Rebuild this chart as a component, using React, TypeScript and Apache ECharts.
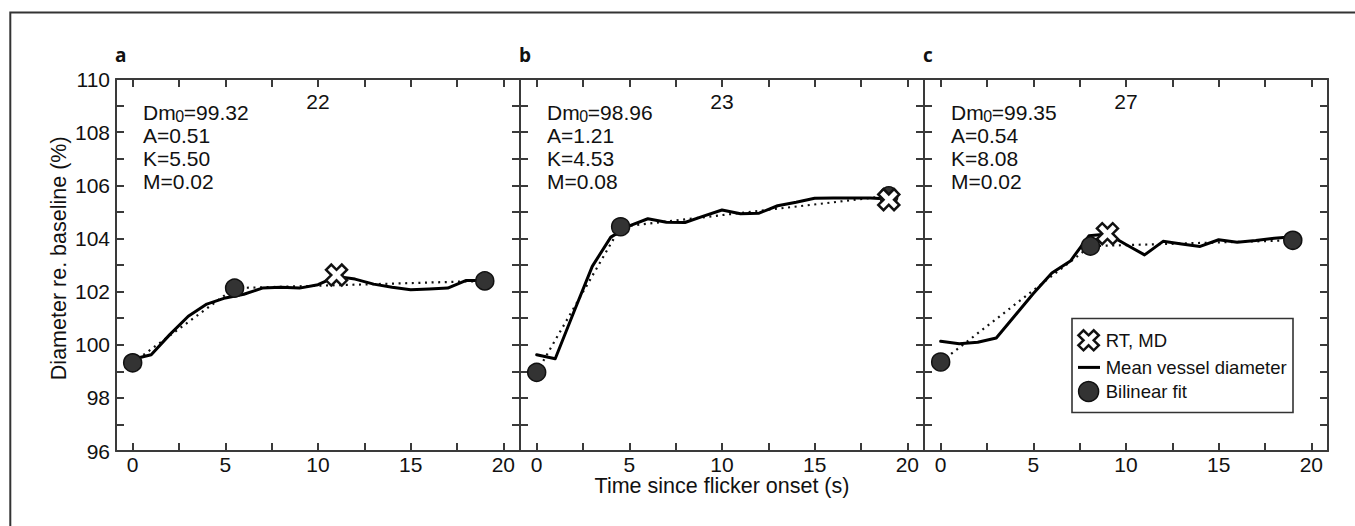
import React, { useEffect, useRef } from "react";
import * as echarts from "echarts";

// ---------- data ----------
const time = [0, 1, 2, 3, 4, 5, 6, 7, 8, 9, 10, 11, 12, 13, 14, 15, 16, 17, 18, 19];
const diameterA = [99.45, 99.62, 100.38, 101.07, 101.53, 101.76, 101.9, 102.13, 102.16, 102.13, 102.26, 102.57, 102.47, 102.28, 102.16, 102.07, 102.1, 102.13, 102.42, 102.42];
const diameterB = [99.62, 99.47, 101.22, 102.95, 104.05, 104.47, 104.74, 104.61, 104.6, 104.84, 105.07, 104.93, 104.95, 105.23, 105.36, 105.51, 105.52, 105.52, 105.52, 105.48];
const diameterC = [100.13, 100.04, 100.09, 100.25, 101.09, 101.93, 102.7, 103.15, 104.1, 104.17, 103.77, 103.38, 103.89, 103.79, 103.7, 103.95, 103.86, 103.92, 104.01, 104.06];
const fitA = [[0, 99.32], [5.5, 102.13], [19, 102.4]];
const fitB = [[0, 98.96], [4.53, 104.44], [19, 105.6]];
const fitC = [[0, 99.35], [8.08, 103.71], [19, 103.93]];
const rtmdA = [11, 102.62];
const rtmdB = [19, 105.46];
const rtmdC = [9, 104.18];
const panelLetters = ["a", "b", "c"];
const panelTitles = ["22", "23", "27"];
const dm0Values = ["99.32", "98.96", "99.35"];
const aValues = ["0.51", "1.21", "0.54"];
const kValues = ["5.50", "4.53", "8.08"];
const mValues = ["0.02", "0.08", "0.02"];
const xTicks = [0, 2.5, 5, 7.5, 10, 12.5, 15, 17.5, 20];
const xTickLabels = [0, 5, 10, 15, 20];
const yTicks = [96, 97, 98, 99, 100, 101, 102, 103, 104, 105, 106, 107, 108, 109, 110];
const yTickLabels = [96, 98, 100, 102, 104, 106, 108, 110];
const legendNames = ["RT, MD", "Mean vessel diameter", "Bilinear fit"];
const xAxisTitle = "Time since flicker onset (s)";
const yAxisTitle = "Diameter re. baseline (%)";

// ---------- layout / style ----------
const FONT = '"Liberation Sans", Arial, Helvetica, sans-serif';
const BOLD_FONT = '"Open Sans", "Liberation Sans", sans-serif';
const AX = "#3a3a3a";
const TXT = "#111";
const PLOT_LEFT = 116;
const PANEL_W = 404;
const PLOT_TOP = 79;
const PLOT_H = 372;
const CROSS = "M-10,-5L-5,-10L0,-5L5,-10L10,-5L5,0L10,5L5,10L0,5L-5,10L-10,5L-5,0Z";
const CROSS_PTS = [[-10, -5], [-5, -10], [0, -5], [5, -10], [10, -5], [5, 0], [10, 5], [5, 10], [0, 5], [-5, 10], [-10, 5], [-5, 0]];

function measure(s: string, font: string): number {
  const c = document.createElement("canvas").getContext("2d");
  if (!c) return s.length * 10;
  c.font = font;
  return c.measureText(s).width;
}

export default function App() {
  const ref = useRef<HTMLDivElement>(null);

  useEffect(() => {
    if (!ref.current) return;
    const chart = echarts.init(ref.current, undefined, { renderer: "svg" });
    const diam = [diameterA, diameterB, diameterC];
    const fits = [fitA, fitB, fitC];
    const rts = [rtmdA, rtmdB, rtmdC];

    const grids: any[] = [];
    const xAxes: any[] = [];
    const yAxes: any[] = [];
    const series: any[] = [];
    const graphics: any[] = [];

    const tickStyle = { color: AX, width: 2 };
    for (let i = 0; i < 3; i++) {
      grids.push({ left: PLOT_LEFT + i * PANEL_W, top: PLOT_TOP, width: PANEL_W, height: PLOT_H, outerBoundsMode: "none" });
      const xBase = {
        gridIndex: i, type: "value", min: -0.9, max: 20.9,
        axisLine: { show: true, onZero: false, lineStyle: { color: AX, width: 2 } },
        axisTick: { show: true, inside: true, length: 8, customValues: xTicks, lineStyle: tickStyle },
        splitLine: { show: false },
      };
      xAxes.push({ ...xBase, position: "bottom",
        axisLabel: { show: true, customValues: xTickLabels, margin: 3, fontSize: 21, fontFamily: FONT, color: TXT } });
      xAxes.push({ ...xBase, position: "top", axisLabel: { show: false } });
      const yBase = {
        gridIndex: i, type: "value", min: 96, max: 110, interval: 1,
        axisLine: { show: true, onZero: false, lineStyle: { color: AX, width: 2 } },
        axisTick: { show: true, inside: true, length: 8, customValues: yTicks, lineStyle: tickStyle },
        splitLine: { show: false },
      };
      yAxes.push({ ...yBase, position: "left",
        axisLabel: { show: i === 0, customValues: yTickLabels, margin: 6, fontSize: 21, fontFamily: FONT, color: TXT } });
      yAxes.push({ ...yBase, position: "right", axisLabel: { show: false } });

      const xi = i * 2, yi = i * 2;
      series.push({
        name: "fit-line", type: "line", xAxisIndex: xi, yAxisIndex: yi, data: fits[i],
        showSymbol: false, symbol: "none", z: 2,
        lineStyle: { color: "#111", width: 2.2, type: [2, 4.6] },
      });
      series.push({
        name: legendNames[1], type: "line", xAxisIndex: xi, yAxisIndex: yi,
        data: time.map((t, j) => [t, diam[i][j]]),
        showSymbol: false, symbol: "none", z: 3,
        lineStyle: { color: "#000", width: 3, join: "round", cap: "round" },
      });
      series.push({
        name: legendNames[2], type: "scatter", xAxisIndex: xi, yAxisIndex: yi, data: fits[i],
        symbol: "circle", symbolSize: 18, z: 4,
        itemStyle: { color: "#333", borderColor: "#111", borderWidth: 1.5, opacity: 1 },
      });
      series.push({
        name: legendNames[0], type: "scatter", xAxisIndex: xi, yAxisIndex: yi, data: [rts[i]],
        symbol: "path://" + CROSS, symbolSize: 21, z: 5,
        itemStyle: { color: "#fff", borderColor: "#111", borderWidth: 2.5, opacity: 1 },
      });

      // panel texts
      const left = PLOT_LEFT + i * PANEL_W;
      graphics.push({ type: "text", x: left - 1, y: 54.7, style: { text: panelLetters[i], font: `bold 19px ${BOLD_FONT}`, fill: TXT, align: "left", verticalAlign: "middle" } });
      graphics.push({ type: "text", x: left + PANEL_W / 2, y: 101, style: { text: panelTitles[i], font: `21px ${FONT}`, fill: TXT, align: "center", verticalAlign: "middle" } });
      const x0 = left + 27;
      const mainFont = `21px ${FONT}`;
      const subFont = `16px ${FONT}`;
      const wDm = measure("Dm", mainFont);
      const wSub = measure("0", subFont);
      const base = [119.5, 142.8, 166.2, 189];
      const c = 7.3;
      graphics.push({ type: "text", x: x0, y: base[0] - c, style: { text: "Dm", font: mainFont, fill: TXT, align: "left", verticalAlign: "middle" } });
      graphics.push({ type: "text", x: x0 + wDm - 0.3, y: base[0] - c + 4.4, style: { text: "0", font: subFont, fill: TXT, align: "left", verticalAlign: "middle" } });
      graphics.push({ type: "text", x: x0 + wDm + wSub - 0.8, y: base[0] - c, style: { text: "=" + dm0Values[i], font: mainFont, fill: TXT, align: "left", verticalAlign: "middle" } });
      graphics.push({ type: "text", x: x0, y: base[1] - c, style: { text: "A=" + aValues[i], font: mainFont, fill: TXT, align: "left", verticalAlign: "middle" } });
      graphics.push({ type: "text", x: x0, y: base[2] - c, style: { text: "K=" + kValues[i], font: mainFont, fill: TXT, align: "left", verticalAlign: "middle" } });
      graphics.push({ type: "text", x: x0, y: base[3] - c, style: { text: "M=" + mValues[i], font: mainFont, fill: TXT, align: "left", verticalAlign: "middle" } });
    }

    // outer frame (left and top edges visible)
    graphics.push({ type: "rect", silent: true, shape: { x: 10.3, y: 12.6, width: 1400, height: 600 }, style: { fill: "none", stroke: "#333", lineWidth: 2 } });
    // axis titles
    graphics.push({ type: "text", x: PLOT_LEFT + PANEL_W * 1.5, y: 485.6, style: { text: xAxisTitle, font: `21.5px ${FONT}`, fill: TXT, align: "center", verticalAlign: "middle" } });
    graphics.push({ type: "text", x: 58.8, y: 258.3, rotation: Math.PI / 2, style: { text: yAxisTitle, font: `21.5px ${FONT}`, fill: TXT, align: "center", verticalAlign: "middle" } });

    // legend
    const lgX = 1072, lgY = 318.5, lgW = 221, lgH = 94;
    graphics.push({ type: "rect", z: 10, shape: { x: lgX, y: lgY, width: lgW, height: lgH }, style: { fill: "#fff", stroke: "#333", lineWidth: 1.6 } });
    const icx = 1088.6;
    const legendY = [340.3, 367.4, 391.5];
    graphics.push({ type: "polygon", z: 11, shape: { points: CROSS_PTS.map(([px, py]) => [icx + px * 1.02, legendY[0] + py * 1.0]) }, style: { fill: "#fff", stroke: "#111", lineWidth: 2.5 } });
    graphics.push({ type: "line", z: 11, shape: { x1: 1078, y1: legendY[1], x2: 1100, y2: legendY[1] }, style: { stroke: "#000", lineWidth: 3 } });
    graphics.push({ type: "circle", z: 11, shape: { cx: icx, cy: legendY[2], r: 10 }, style: { fill: "#333", stroke: "#111", lineWidth: 1.5 } });
    legendNames.forEach((n, k) => {
      graphics.push({ type: "text", z: 11, x: 1105.7, y: legendY[k], style: { text: n, font: `18.5px ${FONT}`, fill: TXT, align: "left", verticalAlign: "middle" } });
    });

    chart.setOption({
      animation: false,
      backgroundColor: "#fff",
      grid: grids,
      xAxis: xAxes,
      yAxis: yAxes,
      series,
      graphic: graphics,
    });
    return () => chart.dispose();
  }, []);

  return (
    <div
      ref={ref}
      style={{ position: "absolute", left: 0, top: 0, width: 1355, height: 526, background: "#fff" }}
    />
  );
}
